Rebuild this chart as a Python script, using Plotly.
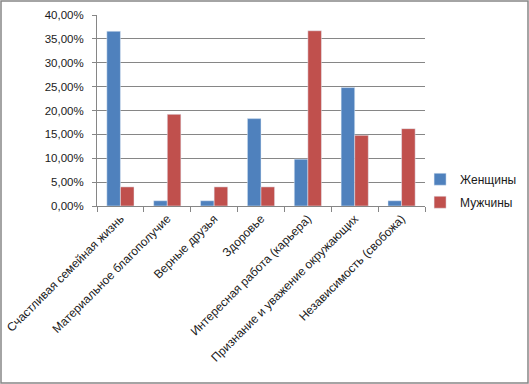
import plotly.graph_objects as go

categories = ["Счастливая семейная жизнь", "Материальное благополучие", "Верные друзья",
              "Здоровье", "Интересная работа (карьера)", "Признание и уважение окружающих",
              "Независимость (свобожа)"]
women = [0.366, 0.011, 0.011, 0.183, 0.098, 0.248, 0.011]
men = [0.040, 0.192, 0.040, 0.040, 0.367, 0.148, 0.162]
y_ticks = [0, 0.05, 0.10, 0.15, 0.20, 0.25, 0.30, 0.35, 0.40]

W, H = 529, 384
ml, mr, mt, mb = 97, 104, 15, 178
pw, ph = W - ml - mr, H - mt - mb

fig = go.Figure()
fig.add_trace(go.Bar(name="Женщины", x=categories, y=women, marker_color="#4F81BD", legendgroup="w"))
fig.add_trace(go.Bar(name="Мужчины", x=categories, y=men, marker_color="#C0504D", legendgroup="m"))

gray = "#868686"
fig.update_layout(
    width=W, height=H,
    margin=dict(l=ml, r=mr, t=mt, b=mb, pad=0, autoexpand=False),
    paper_bgcolor="white", plot_bgcolor="white",
    barmode="group", bargap=0.42, bargroupgap=0,
    separators=", ",
    font=dict(family="Liberation Sans, Arial, sans-serif", size=11, color="#1a1a1a"),
    legend=dict(x=0.985, xanchor="left", y=0.08, yanchor="middle",
                font=dict(size=12), tracegroupgap=4, itemwidth=30,
                bgcolor="rgba(0,0,0,0)"),
    xaxis=dict(tickangle=-45, showline=True, linecolor=gray, linewidth=1,
               ticks="outside", tickson="boundaries", ticklen=5, tickcolor=gray,
               showgrid=False, tickfont=dict(size=12), automargin=False),
    yaxis=dict(range=[0, 0.40], tickvals=y_ticks, tickformat=".2%",
               showline=True, linecolor=gray, linewidth=1,
               ticks="outside", ticklen=4, tickcolor=gray, tickfont=dict(size=11.5),
               ticklabelstandoff=6,
               showgrid=True, gridcolor=gray, gridwidth=1, zeroline=False, automargin=False),
    shapes=[dict(type="rect", xref="paper", yref="paper",
                 x0=(-ml + 1) / pw, x1=(pw + mr - 1) / pw,
                 y0=(-mb + 1) / ph, y1=(ph + mt - 1) / ph,
                 line=dict(color=gray, width=1.5), fillcolor="rgba(0,0,0,0)", layer="below")],
)
fig.write_html("out.html", config={"displayModeBar": False},
               post_script="document.body.style.margin='0';document.body.style.overflow='hidden';")
